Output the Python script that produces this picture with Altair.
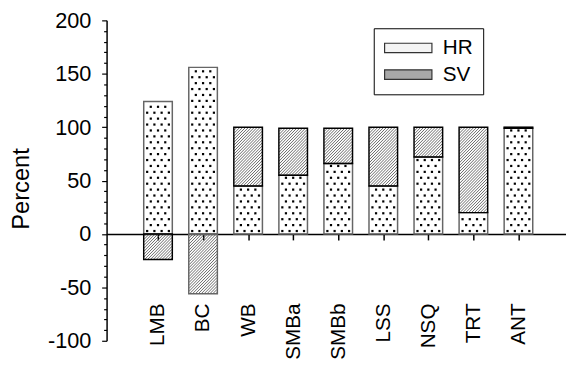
import altair as alt
import pandas as pd

categories = ["LMB", "BC", "WB", "SMBa", "SMBb", "LSS", "NSQ", "TRT", "ANT"]
hr_values = [124, 156, 45, 55, 66, 45, 72, 20, 99]
sv_values = [-24, -56, 55, 44, 33, 55, 28, 80, 1]
series_names = ["HR", "SV"]
y_ticks = list(range(-100, 201, 10))

FONT = "Liberation Sans"
W, H = 466, 325
XMIN, XMAX = -1.032, 8.946
YMIN, YMAX = -100, 200
PX = W / (XMAX - XMIN)      # pixels per category step
PY = H / (YMAX - YMIN)      # pixels per percent
BAR_W = 29
ZERO_OFFSET = -(H - YMAX * PY)

rows = []
for i, (c, h) in enumerate(zip(categories, hr_values)):
    rows.append(dict(cat=c, idx=i, series="HR", lo=min(0, h), hi=max(0, h)))
for i, (c, h, s) in enumerate(zip(categories, hr_values, sv_values)):
    base = 0 if s < 0 else h
    rows.append(dict(cat=c, idx=i, series="SV", lo=min(base, base + s), hi=max(base, base + s)))
df = pd.DataFrame(rows)

xscale = alt.Scale(domain=[XMIN, XMAX], nice=False, zero=False)
yscale = alt.Scale(domain=[YMIN, YMAX], nice=False, zero=False)

label_list = "[" + ",".join("'%s'" % c for c in categories) + "]"
xaxis = alt.Axis(
    values=list(range(len(categories))),
    labelExpr=label_list + "[datum.value]",
    title=None, grid=False, offset=ZERO_OFFSET,
    domainColor="black", domainWidth=1.5,
    tickColor="black", tickWidth=1.5, tickSize=6,
    labelAngle=270, labelAlign="right", labelBaseline="middle",
    labelPadding=64, labelFontSize=21, labelColor="black", labelFont=FONT,
    labelFlush=False, labelOverlap=False,
)
yaxis = alt.Axis(
    values=y_ticks,
    labelExpr="datum.value % 50 === 0 ? toString(datum.value) : ''",
    title="Percent", titleFontSize=24, titleFontWeight="normal", titleFont=FONT,
    titleColor="black", titleX=-86, titleY=170.5, titleAngle=270,
    titleAlign="center", titleBaseline="middle",
    grid=False, domainColor="black", domainWidth=1.5,
    tickColor="black", tickWidth=1.2,
    tickSize={"condition": {"test": "datum.value % 50 === 0", "value": 5}, "value": 3},
    labelFontSize=22, labelPadding=11, labelOverlap=False, labelFlush=False,
    labelColor="black", labelFont=FONT,
)

base = alt.Chart(df)

# diagonal hatching for SV segments
hatch = base.transform_filter("datum.series === 'SV'").transform_calculate(
    hpx=f"(datum.hi - datum.lo) * {PY}"
).transform_calculate(
    ds=f"sequence({-BAR_W + 1.5}, datum.hpx, 3)"
).transform_flatten(["ds"]).transform_calculate(
    u0="max(0, -datum.ds)", u1=f"min({BAR_W}, datum.hpx - datum.ds)"
).transform_filter("datum.u1 > datum.u0").transform_calculate(
    hx1=f"datum.idx + (datum.u0 - {BAR_W / 2}) / {PX}",
    hx2=f"datum.idx + (datum.u1 - {BAR_W / 2}) / {PX}",
    hy1=f"datum.lo + (datum.u0 + datum.ds) / {PY}",
    hy2=f"datum.lo + (datum.u1 + datum.ds) / {PY}",
).mark_rule(color="#444444", strokeWidth=0.8).encode(
    x=alt.X("hx1:Q", scale=xscale, axis=xaxis),
    x2="hx2:Q",
    y=alt.Y("hy1:Q", scale=yscale, axis=yaxis),
    y2="hy2:Q",
)

# dotted fill for HR segments
dots = base.transform_filter("datum.series === 'HR'").transform_calculate(
    hpx=f"(datum.hi - datum.lo) * {PY}"
).transform_calculate(
    krows="sequence(0, datum.hpx >= 5 ? floor((datum.hpx - 5) / 6) + 1 : 0)"
).transform_flatten(["krows"]).transform_calculate(
    cols="datum.krows % 2 === 0 ? [-11.25, -3.75, 3.75, 11.25] : [-7.5, 0, 7.5]"
).transform_flatten(["cols"]).transform_calculate(
    dx=f"datum.idx + datum.cols / {PX}",
    dy=f"datum.lo + (3 + 6 * datum.krows) / {PY}",
).mark_square(size=5, color="black", opacity=1).encode(
    x=alt.X("dx:Q", scale=xscale, axis=xaxis),
    y=alt.Y("dy:Q", scale=yscale, axis=yaxis),
)

outline = base.mark_bar(fillOpacity=0, strokeWidth=1.5, size=BAR_W).encode(
    x=alt.X("idx:Q", scale=xscale, axis=xaxis),
    y=alt.Y("lo:Q", scale=yscale, axis=yaxis),
    y2="hi:Q",
    stroke=alt.condition("datum.series === 'SV' && datum.cat !== 'BC'",
                         alt.value("black"), alt.value("#666666")),
)

legend_layer = base.mark_square(opacity=0, filled=True).encode(
    x=alt.X("idx:Q", scale=xscale, axis=xaxis),
    y=alt.Y("hi:Q", scale=yscale, axis=yaxis),
    fill=alt.Fill(
        "series:N",
        scale=alt.Scale(domain=series_names, range=["#f4f4f4", "#a8a8a8"]),
        legend=alt.Legend(
            title=None, orient="none", legendX=271, legendY=8,
            padding=10, strokeColor="black", fillColor="white",
            symbolType="M-1,-0.2H1V0.2H-1Z", symbolSize=2304, clipHeight=20,
            symbolStrokeColor="#333333", symbolStrokeWidth=1.2, symbolOpacity=1,
            labelFontSize=21, labelOffset=10, rowPadding=6,
            labelFont=FONT, labelColor="black",
        ),
    ),
)

chart = alt.layer(hatch, dots, outline, legend_layer).properties(
    width=W, height=H,
    autosize=alt.AutoSizeParams(type="none"),
    padding={"left": 100, "top": 10, "right": 0, "bottom": 21},
).configure(font=FONT).configure_view(strokeWidth=0)

chart.save("out.html", embed_options={"renderer": "svg", "actions": False})
